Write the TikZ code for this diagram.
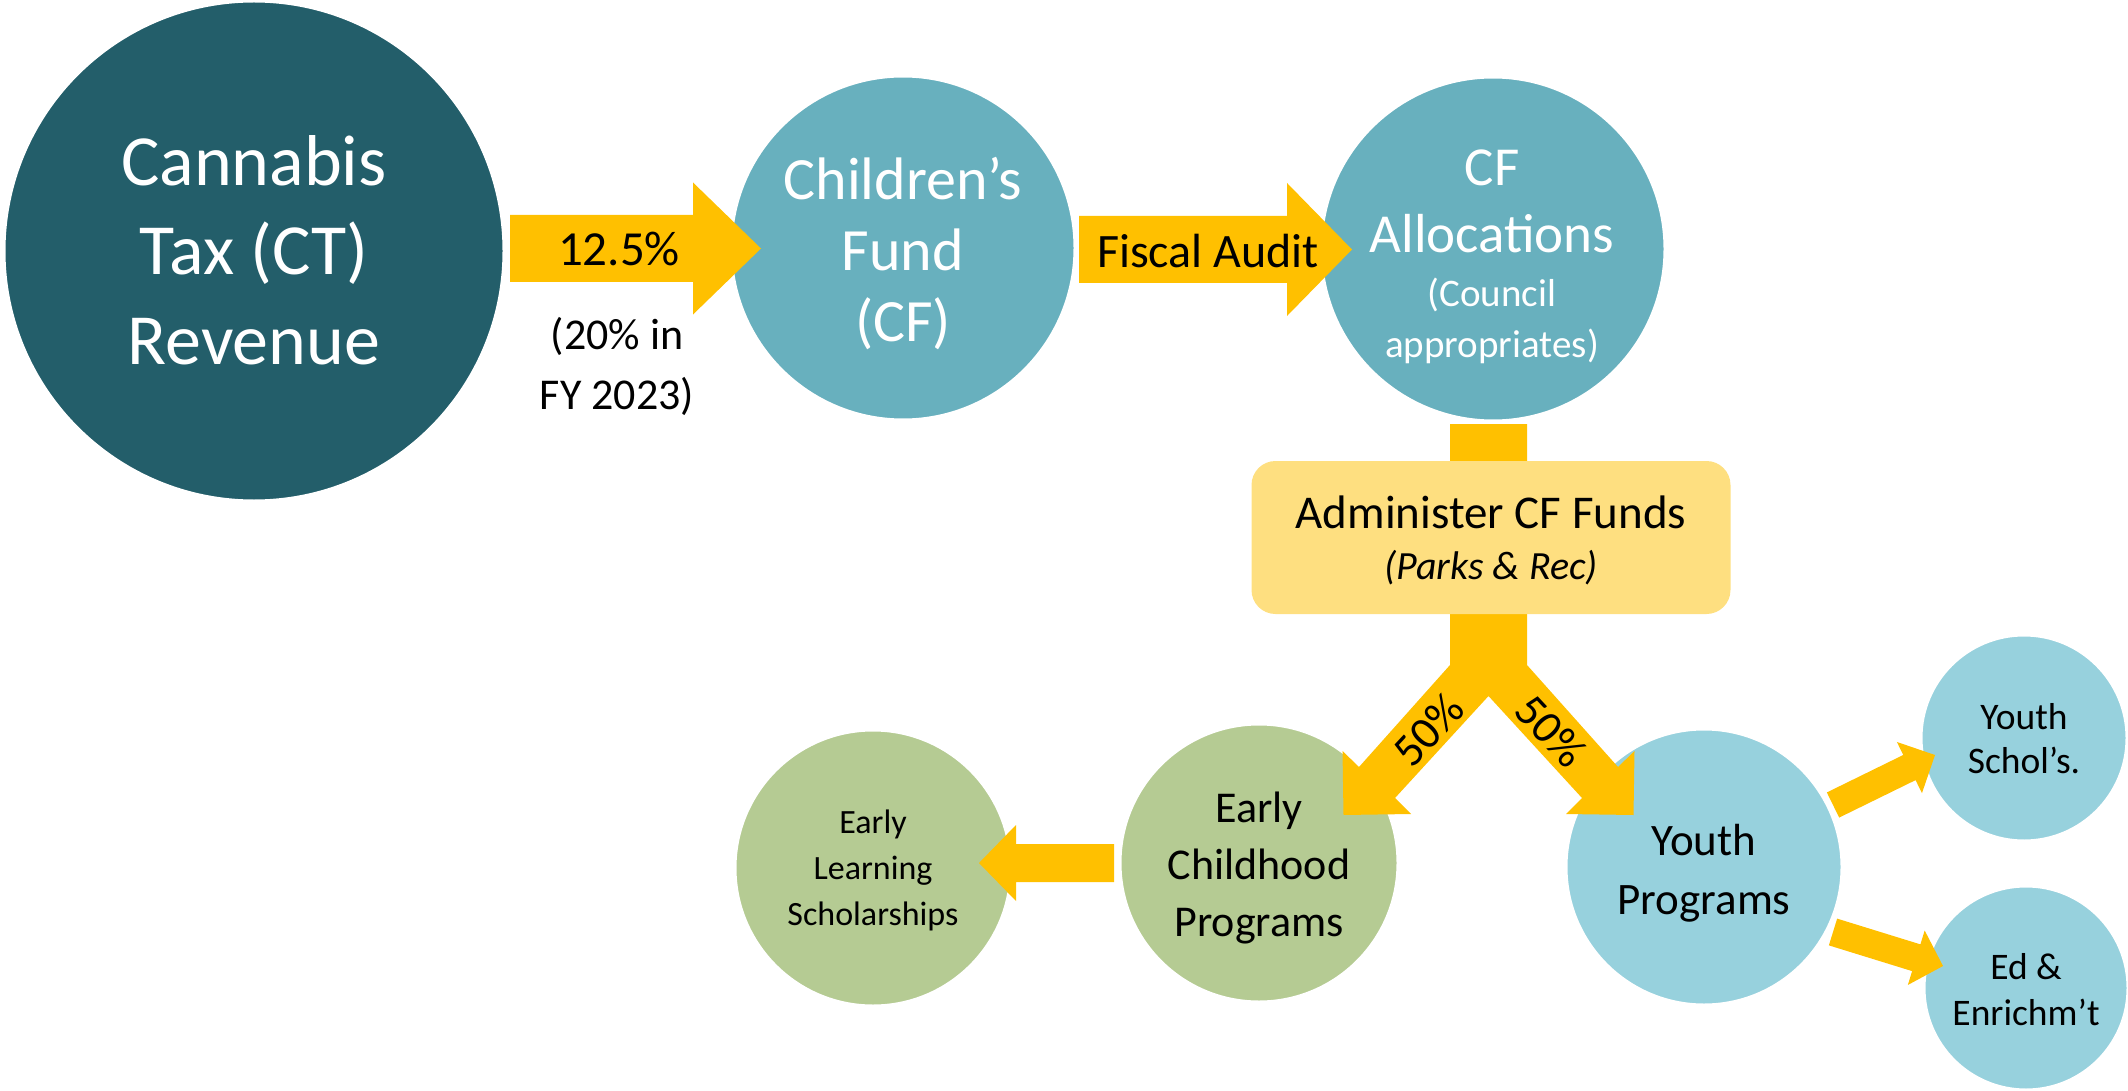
\documentclass[tikz,border=0pt]{standalone}
\usepackage{fontspec}
\setmainfont{Carlito}
\usetikzlibrary{calc}
\definecolor{ctdark}{RGB}{35,94,106}
\definecolor{cfteal}{RGB}{104,176,190}
\definecolor{arrowy}{RGB}{255,192,0}
\definecolor{boxy}{RGB}{254,223,128}
\definecolor{greenc}{RGB}{181,203,147}
\definecolor{bluec}{RGB}{151,209,221}
\newcommand\fsz[2]{\fontsize{#1}{#2}\selectfont}
% #1 start, #2 tip, #3 shaft half width, #4 head half width, #5 head length
\newcommand\blockarr[5]{%
  \coordinate (ba-c) at ($(#2)!#5!(#1)$);
  \fill[arrowfill] ($(#1)!#3!90:(#2)$) -- ($(ba-c)!#3!-90:(#1)$) -- ($(ba-c)!#4!-90:(#1)$) -- (#2)
    -- ($(ba-c)!#4!90:(#1)$) -- ($(ba-c)!#3!90:(#1)$) -- ($(#1)!#3!-90:(#2)$) -- cycle;}
\tikzset{
  bubble/.style={circle, inner sep=0pt, draw=white, line width=3pt},
  arrowfill/.style={fill=arrowy},
  lbl/.style={inner sep=0pt, align=center},
}
\begin{document}
\begin{tikzpicture}[x=1pt,y=-1pt]
\useasboundingbox (0,0) rectangle (2128,1091);
% lower circles
\node[bubble, fill=greenc, minimum size=278pt] (ecp) at (1259,863) {};
\node[lbl, font=\fsz{44}{57}] (ecpt) at ($(ecp)+(0,5)$) {Early\\Childhood\\Programs};
\node[bubble, fill=greenc, minimum size=276pt] (els) at (873,868) {};
\node[lbl, font=\fsz{34}{46}] (elst) at ($(els)+(0,2)$) {Early\\Learning\\Scholarships};
\node[bubble, fill=bluec, minimum size=276pt] (yp) at (1704,867) {};
\node[lbl, font=\fsz{45}{59}] (ypt) at ($(yp)+(0,6)$) {Youth\\Programs};
\node[bubble, fill=bluec, minimum size=206pt] (ys) at (2024,738) {};
\node[lbl, font=\fsz{37.5}{44}] (yst) at ($(ys)+(0,1)$) {Youth\\Schol’s.};
\node[bubble, fill=bluec, minimum size=204pt] (ee) at (2026,988) {};
\node[lbl, font=\fsz{37.5}{46}] (eet) at ($(ee)+(0,2)$) {Ed \&\\Enrichm’t};
% Y-shaped split arrow
\coordinate (ytipL) at (1343.5,815);
\coordinate (ytipR) at (1633.5,815);
\fill[arrowfill] (1450,424) -- (1450,665) -- (1359,767) -- (1342.5,751) -- (ytipL) -- (1411,814)
  -- (1395,798) -- (1488.5,696) -- (1582,798) -- (1566,814) -- (ytipR) -- (1634.5,751)
  -- (1618,767) -- (1527,665) -- (1527,424) -- cycle;
% upper circles
\node[bubble, fill=ctdark, minimum size=500pt] (ct) at (254,251) {};
\node[lbl, text=white, font=\fsz{72}{89.5}] (ctt) at ($(ct)+(0,-1)$) {Cannabis\\Tax (CT)\\Revenue};
\node[bubble, fill=cfteal, minimum size=344pt] (cf) at (903,248) {};
\node[lbl, text=white, font=\fsz{60}{71}] (cft) at ($(cf)+(0,6)$) {Children’s\\Fund\\(CF)};
\node[bubble, fill=cfteal, minimum size=344pt] (cfa) at (1493,249) {};
\node[lbl, text=white, font=\fsz{55}{67}] (cfat) at (1492,201) {CF\\Allocations};
\node[lbl, text=white, font=\fsz{39}{51}] (cfas) at (1492,321) {(Council\\appropriates)};
% block arrows
\coordinate (a1s) at (510,248.5);  \coordinate (a1e) at (761,248.5);
\blockarr{a1s}{a1e}{33.5pt}{66pt}{68pt}
\coordinate (a2s) at (1079,249.5); \coordinate (a2e) at (1352,249.5);
\blockarr{a2s}{a2e}{33.5pt}{66.5pt}{65pt}
\coordinate (a3s) at (1114,863);  \coordinate (a3e) at (979,863);
\blockarr{a3s}{a3e}{19pt}{38pt}{37pt}
\coordinate (a4s) at (1833,805);  \coordinate (a4e) at (1935,755);
\blockarr{a4s}{a4e}{14pt}{28.5pt}{28.5pt}
\coordinate (a5s) at (1833,932);  \coordinate (a5e) at (1943,966);
\blockarr{a5s}{a5e}{14pt}{28.5pt}{28pt}
% administer box
\node[fill=boxy, rounded corners=24pt, minimum width=479pt, minimum height=153pt, inner sep=0pt] (adm) at (1491,537.5) {};
\node[lbl, font=\fsz{47}{55}] (admt) at (1491,512) {Administer CF Funds};
\node[lbl, font=\fsz{40}{55}\itshape] (adms) at (1491,568) {(Parks \& Rec)};
% arrow labels
\node[lbl, font=\fsz{49}{56}] (l125) at (619,249) {12.5\%};
\node[lbl, font=\fsz{44}{60}] (l20) at (617,366) {(20\% in\\FY 2023)};
\node[lbl, font=\fsz{48}{56}] (lfa) at (1208,251) {Fiscal Audit};
\node[lbl, rotate=47, font=\fsz{46}{56}] (l50l) at (1428,730) {50\%};
\node[lbl, rotate=-47, font=\fsz{46}{56}] (l50r) at (1551,731) {50\%};
\end{tikzpicture}
\end{document}
